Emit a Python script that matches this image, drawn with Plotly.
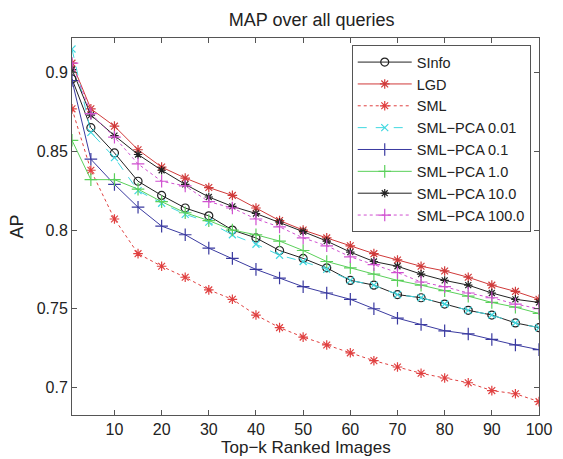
import plotly.graph_objects as go

top_k = [1, 5, 10, 15, 20, 25, 30, 35, 40, 45, 50, 55, 60, 65, 70, 75, 80, 85, 90, 95, 100]

sinfo = [0.896, 0.865, 0.849, 0.831, 0.822, 0.814, 0.809, 0.800, 0.795, 0.787, 0.782,
         0.776, 0.768, 0.765, 0.759, 0.757, 0.753, 0.749, 0.746, 0.741, 0.738]
lgd = [0.906, 0.877, 0.866, 0.851, 0.840, 0.833, 0.827, 0.822, 0.814, 0.806, 0.800,
       0.795, 0.790, 0.785, 0.781, 0.777, 0.774, 0.770, 0.765, 0.761, 0.756]
sml = [0.877, 0.838, 0.807, 0.785, 0.777, 0.770, 0.762, 0.756, 0.746, 0.738, 0.732,
       0.727, 0.722, 0.717, 0.713, 0.709, 0.706, 0.703, 0.698, 0.696, 0.691]
pca_001 = [0.915, 0.862, 0.846, 0.825, 0.817, 0.810, 0.805, 0.797, 0.791, 0.784, 0.780,
           0.775, 0.768, 0.765, 0.759, 0.757, 0.753, 0.749, 0.746, 0.741, 0.738]
pca_01 = [0.895, 0.845, 0.829, 0.8145, 0.8025, 0.797, 0.7885, 0.782, 0.775, 0.7695, 0.764,
          0.760, 0.756, 0.750, 0.744, 0.740, 0.736, 0.734, 0.7305, 0.727, 0.724]
pca_1 = [0.857, 0.832, 0.832, 0.826, 0.818, 0.811, 0.806, 0.800, 0.797, 0.793, 0.787,
         0.780, 0.776, 0.772, 0.768, 0.765, 0.7615, 0.758, 0.754, 0.751, 0.747]
pca_10 = [0.902, 0.873, 0.860, 0.848, 0.838, 0.829, 0.821, 0.815, 0.8105, 0.805, 0.799,
          0.793, 0.786, 0.780, 0.777, 0.772, 0.768, 0.765, 0.760, 0.756, 0.754]
pca_100 = [0.906, 0.874, 0.859, 0.842, 0.831, 0.828, 0.818, 0.814, 0.807, 0.802, 0.795,
           0.790, 0.783, 0.778, 0.773, 0.767, 0.764, 0.760, 0.757, 0.753, 0.750]

series = [
    ("SInfo", sinfo, "#222222", "solid", "circle-open", 8),
    ("LGD", lgd, "#d03a3a", "solid", "asterisk-open", 8),
    ("SML", sml, "#e04040", "dot", "asterisk-open", 8),
    ("SML−PCA 0.01", pca_001, "#40d8e0", "dash", "x-thin-open", 7),
    ("SML−PCA 0.1", pca_01, "#3a3aa0", "solid", "cross-thin-open", 9),
    ("SML−PCA 1.0", pca_1, "#5ad05a", "solid", "cross-thin-open", 9),
    ("SML−PCA 10.0", pca_10, "#222222", "solid", "asterisk-open", 7),
    ("SML−PCA 100.0", pca_100, "#d050d0", "dot", "cross-thin-open", 9),
]

fig = go.Figure()
for name, vals, color, dash, sym, size in series:
    fig.add_trace(go.Scatter(
        x=top_k, y=vals, name=name, mode="lines+markers",
        line=dict(color=color, width=1, dash=dash),
        marker=dict(symbol=sym, size=size, color=color, line=dict(color=color, width=1.2)),
    ))

axis_common = dict(
    showline=True, mirror="ticks", linecolor="#555555", linewidth=1,
    ticks="inside", ticklen=5, tickcolor="#555555", showgrid=False, zeroline=False,
    tickfont=dict(size=16, color="#222222"), ticklabeloverflow="allow",
)

fig.update_layout(
    width=563, height=459,
    margin=dict(l=72, r=11, t=38, b=44),
    paper_bgcolor="white", plot_bgcolor="white",
    font=dict(family="Liberation Sans, Arial, sans-serif", color="#222222"),
    title=dict(text="MAP over all queries", x=0.5535, xanchor="center", y=0.957, yanchor="middle",
               font=dict(size=18, color="#222222")),
    xaxis=dict(range=[1, 100], tickvals=[10, 20, 30, 40, 50, 60, 70, 80, 90, 100],
               **axis_common),
    yaxis=dict(range=[0.6825, 0.922], tickvals=[0.7, 0.75, 0.8, 0.85, 0.9],
               ticktext=["0.7", "0.75", "0.8", "0.85", "0.9"],
               title=dict(text="AP", font=dict(size=18), standoff=8),
               **axis_common),
    legend=dict(x=0.599, y=0.981, xanchor="left", yanchor="top",
                bgcolor="white", bordercolor="#555555", borderwidth=1,
                font=dict(size=14.5, color="#222222"), tracegroupgap=0,
                itemwidth=54),
    annotations=[dict(text="Top−k Ranked Images", xref="paper", yref="paper",
                      x=0.5, y=-0.0863, xanchor="center", yanchor="middle",
                      showarrow=False, font=dict(size=17, color="#222222"))],
    showlegend=True,
)

fig.write_html("out.html", config={"displayModeBar": False},
               post_script="document.body.style.margin='0';")
